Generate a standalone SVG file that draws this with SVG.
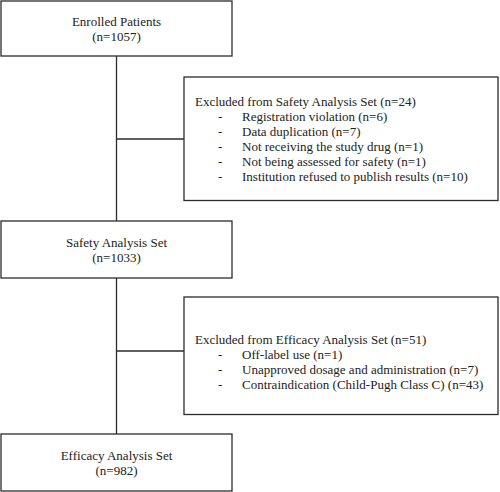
<svg xmlns="http://www.w3.org/2000/svg" width="500" height="492" viewBox="0 0 500 492">
<style>
rect{fill:#fff;stroke:#2b2b2b;stroke-width:1.3}
line{stroke:#2b2b2b;stroke-width:1.3}
text{font-family:"Liberation Serif","Times New Roman",serif;font-size:13px;fill:#222}
.c{text-anchor:middle}
</style>
<rect x="0" y="0" width="500" height="492" style="fill:#fff;stroke:none"/>
<g id="connectors">
<line x1="116.5" y1="56" x2="116.5" y2="221"/>
<line x1="116.5" y1="139" x2="184" y2="139"/>
<line x1="116.5" y1="278" x2="116.5" y2="434"/>
<line x1="116.5" y1="351" x2="184" y2="351"/>
</g>
<g id="enrolled">
<rect x="1" y="1" width="231" height="55"/>
<text class="c" x="116.5" y="26">Enrolled Patients</text>
<text class="c" x="116.5" y="41">(n=1057)</text>
</g>
<g id="excluded-safety">
<rect x="184" y="77" width="314" height="123.5"/>
<text x="195" y="106">Excluded from Safety Analysis Set (n=24)</text>
<text x="218" y="121">-</text><text x="242" y="121">Registration violation (n=6)</text>
<text x="218" y="136">-</text><text x="242" y="136">Data duplication (n=7)</text>
<text x="218" y="151">-</text><text x="242" y="151">Not receiving the study drug (n=1)</text>
<text x="218" y="166">-</text><text x="242" y="166">Not being assessed for safety (n=1)</text>
<text x="218" y="181">-</text><text x="242" y="181">Institution refused to publish results (n=10)</text>
</g>
<g id="safety">
<rect x="1" y="221" width="231" height="57"/>
<text class="c" x="116.5" y="247">Safety Analysis Set</text>
<text class="c" x="116.5" y="262">(n=1033)</text>
</g>
<g id="excluded-efficacy">
<rect x="184" y="297" width="314" height="117.5"/>
<text x="195" y="344">Excluded from Efficacy Analysis Set (n=51)</text>
<text x="218" y="359">-</text><text x="242" y="359">Off-label use (n=1)</text>
<text x="218" y="374">-</text><text x="242" y="374">Unapproved dosage and administration (n=7)</text>
<text x="218" y="389">-</text><text x="242" y="389">Contraindication (Child-Pugh Class C) (n=43)</text>
</g>
<g id="efficacy">
<rect x="1" y="434" width="231" height="57"/>
<text class="c" x="116.5" y="460">Efficacy Analysis Set</text>
<text class="c" x="116.5" y="475">(n=982)</text>
</g>
</svg>
